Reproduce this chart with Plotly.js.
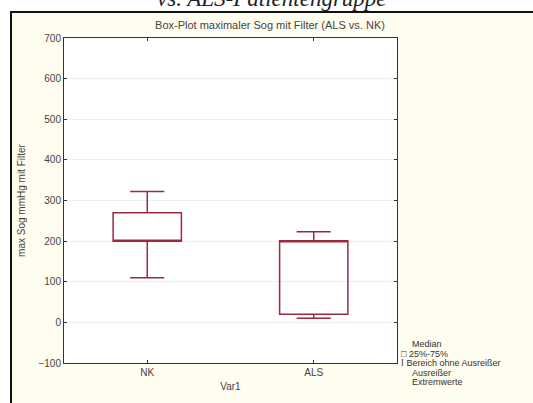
<!DOCTYPE html>
<html>
<head>
<meta charset="utf-8">
<script src="https://cdn.plot.ly/plotly-3.0.1.min.js"></script>
<style>html,body{margin:0;padding:0;background:#fff;}#chart{width:533px;height:403px;}</style>
</head>
<body>
<div id="chart"></div>
<script>
// Data
var groups = ['NK', 'ALS'];
var q1 = [200, 20];
var median = [200, 201];
var q3 = [270, 201];
var lowerFence = [110, 10];
var upperFence = [322, 223];

var yTickVals = [-100, 0, 100, 200, 300, 400, 500, 600, 700];
var legendLabels = ['Median', '\u25A1 25%-75%', '\u2160 Bereich ohne Ausreißer', 'Ausreißer', 'Extremwerte'];
var legendIndent = [true, false, false, true, true];

var chartTitle = 'Box-Plot maximaler Sog mit Filter (ALS vs. NK)';
var yTitle = 'max Sog mmHg mit Filter';
var xTitle = 'Var1';
var topCaption = 'vs. ALS-Patientengruppe';

var W = 533, H = 403;
var L = 64, R = 397, T = 38, B = 363;
function px(x) { return (x - L) / (R - L); }
function py(y) { return (B - y) / (B - T); }

var FONT = 'Liberation Sans, Arial, sans-serif';

var trace = {
  type: 'box',
  x: groups,
  q1: q1,
  median: median,
  q3: q3,
  lowerfence: lowerFence,
  upperfence: upperFence,
  boxpoints: false,
  width: 0.41,
  whiskerwidth: 0.5,
  fillcolor: 'rgba(255,255,255,0)',
  line: { color: '#9b2a3f', width: 1.5 },
  hoverinfo: 'skip',
  showlegend: false
};

var annotations = [];
var lineY = [344, 353.5, 363, 372.5, 382];
for (var i = 0; i < legendLabels.length; i++) {
  annotations.push({
    xref: 'paper', yref: 'paper',
    x: px(legendIndent[i] ? 411 : 400), y: py(lineY[i]),
    xanchor: 'left', yanchor: 'middle',
    text: legendLabels[i], showarrow: false,
    borderpad: 0,
    font: { family: FONT, size: 9, color: '#333' }
  });
}
annotations.push({
  xref: 'paper', yref: 'paper',
  x: px(272), y: py(-1),
  xanchor: 'center', yanchor: 'middle',
  text: '<i>' + topCaption + '</i>', showarrow: false,
  font: { family: 'Liberation Serif, serif', size: 23, color: '#222' }
});

var layout = {
  width: W, height: H,
  margin: { l: L, r: W - R, t: T, b: H - B, pad: 0 },
  paper_bgcolor: '#ffffff',
  plot_bgcolor: '#ffffff',
  showlegend: false,
  title: {
    text: chartTitle,
    x: 270 / W, xanchor: 'center',
    y: 1 - 25 / H, yanchor: 'middle',
    font: { family: FONT, size: 11, color: '#444' }
  },
  xaxis: {
    type: 'category',
    range: [-0.5, 1.5],
    showline: true, linecolor: '#333', linewidth: 1,
    mirror: 'ticks', ticks: 'inside', ticklen: 3, tickcolor: '#333',
    showgrid: false, zeroline: false,
    tickfont: { family: FONT, size: 10, color: '#444' },
    title: { text: xTitle, standoff: 5, font: { family: FONT, size: 10, color: '#444' } },
    automargin: false, fixedrange: true
  },
  yaxis: {
    range: [-100, 700],
    tickvals: yTickVals,
    showline: true, linecolor: '#333', linewidth: 1,
    mirror: 'ticks', ticks: 'inside', ticklen: 3, tickcolor: '#333',
    showgrid: true, gridcolor: '#eeeeee', gridwidth: 1,
    zeroline: false,
    tickfont: { family: FONT, size: 10, color: '#444' },
    title: { text: yTitle, standoff: 10, font: { family: FONT, size: 10, color: '#444' } },
    automargin: false, fixedrange: true
  },
  shapes: [
    {
      type: 'rect', xref: 'paper', yref: 'paper', layer: 'below',
      x0: px(11), x1: px(560), y0: py(12), y1: py(430),
      fillcolor: '#fffcf0', line: { color: '#111', width: 2 }
    },
    {
      type: 'rect', xref: 'paper', yref: 'paper', layer: 'below',
      x0: 0, x1: 1, y0: 0, y1: 1,
      fillcolor: '#ffffff', line: { width: 0 }
    }
  ],
  annotations: annotations
};

Plotly.newPlot('chart', [trace], layout, { staticPlot: true, displayModeBar: false });
</script>
</body>
</html>
